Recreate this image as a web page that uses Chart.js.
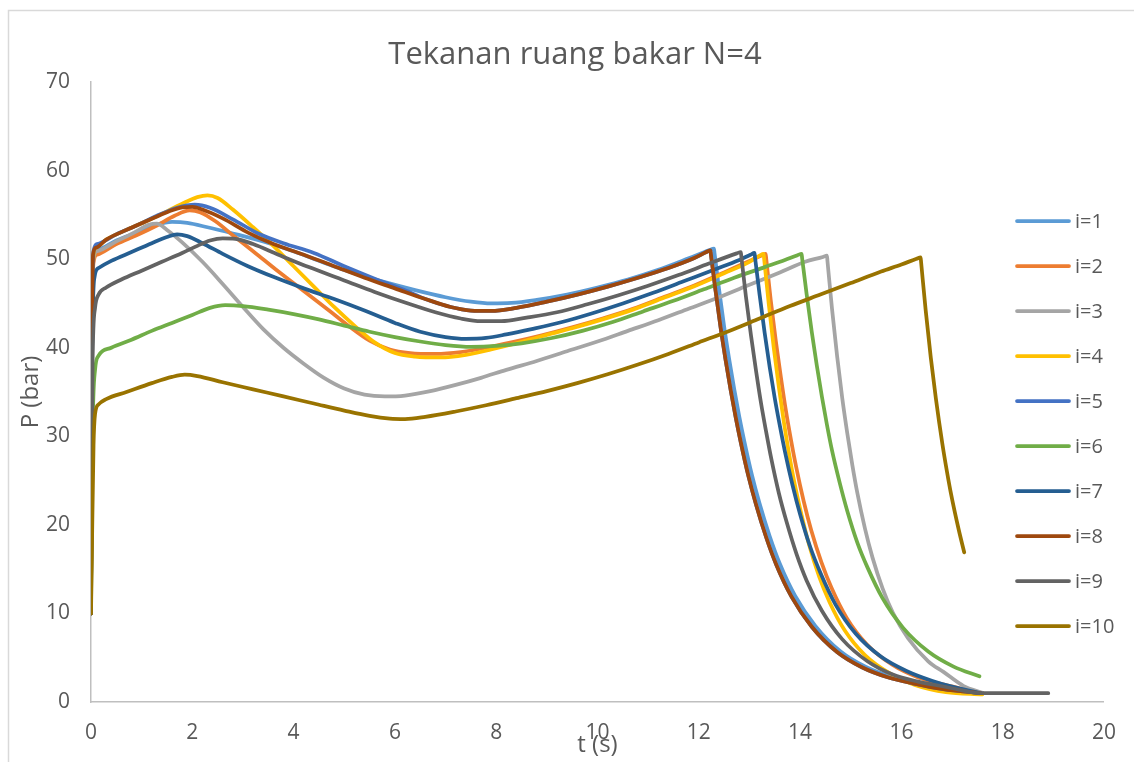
<!DOCTYPE html>
<html>
<head>
<meta charset="utf-8">
<title>Tekanan ruang bakar N=4</title>
<script src="https://cdn.jsdelivr.net/npm/chart.js@4.4.1/dist/chart.umd.min.js"></script>
<style>
  html, body { margin: 0; padding: 0; background: #fff; }
  #wrap { width: 1134px; height: 762px; position: relative; }
</style>
</head>
<body>
<div id="wrap"><canvas id="myChart"></canvas></div>
<script>
// t (s), P (bar) pairs
var i1 = [[0,10],[0.02,40],[0.05,50.2],[0.12,51.0],[0.5,52.1],[0.9,53.0],[1.3,53.9],[1.6,54.2],[1.9,54.1],[2.3,53.6],[2.8,52.9],[3.4,52.0],[4.0,50.9],[4.6,49.6],[5.2,48.4],[5.8,47.4],[6.4,46.5],[7.0,45.7],[7.5,45.2],[7.9,45.0],[8.3,45.05],[8.8,45.4],[9.4,46.0],[10.0,46.8],[10.6,47.7],[11.2,48.8],[11.8,50.1],[12.2,51.0],[12.3,51.2],[12.31,50.7],[12.4,46.6],[12.5,42.4],[12.6,38.7],[12.7,35.3],[12.8,32.2],[12.9,29.4],[13.05,25.6],[13.2,22.4],[13.4,18.7],[13.6,15.6],[13.9,12.0],[14.3,8.6],[14.8,5.7],[15.3,3.95],[15.8,2.85],[16.3,2.15],[16.9,1.5],[17.6,1.0]];
var i2 = [[0,10],[0.02,40],[0.05,49.6],[0.12,50.5],[0.5,51.7],[0.9,52.7],[1.3,53.8],[1.65,54.9],[1.95,55.5],[2.15,55.3],[2.45,54.3],[2.8,52.7],[3.2,50.9],[3.7,48.6],[4.2,46.4],[4.7,44.2],[5.1,42.4],[5.5,40.8],[5.9,39.8],[6.3,39.4],[6.8,39.3],[7.3,39.5],[7.8,40.0],[8.3,40.6],[8.9,41.4],[9.5,42.3],[10.1,43.3],[10.7,44.4],[11.3,45.7],[11.9,47.0],[12.5,48.5],[13.0,49.8],[13.25,50.45],[13.32,50.6],[13.33,50.1],[13.42,45.4],[13.52,40.8],[13.62,36.7],[13.72,32.9],[13.82,29.6],[13.92,26.6],[14.07,22.7],[14.22,19.4],[14.42,15.8],[14.62,12.9],[14.92,9.5],[15.32,6.5],[15.82,4.2],[16.32,2.8],[16.82,2.0],[17.6,1.0]];
var i3 = [[0,10],[0.02,40],[0.05,50.1],[0.12,50.9],[0.5,52.0],[0.85,53.0],[1.15,53.9],[1.3,54.0],[1.5,53.3],[1.8,51.9],[2.2,49.7],[2.6,47.2],[3.0,44.6],[3.4,42.1],[3.8,40.0],[4.2,38.2],[4.6,36.6],[5.0,35.4],[5.4,34.7],[5.8,34.5],[6.2,34.6],[6.7,35.1],[7.2,35.8],[7.7,36.6],[8.2,37.5],[8.8,38.5],[9.4,39.6],[10.0,40.7],[10.6,41.9],[11.2,43.1],[11.8,44.4],[12.4,45.7],[13.0,47.1],[13.6,48.5],[14.1,49.7],[14.45,50.25],[14.53,50.4],[14.54,49.8],[14.63,44.4],[14.73,39.1],[14.83,34.4],[14.93,30.4],[15.03,26.8],[15.13,23.6],[15.28,19.6],[15.43,16.3],[15.63,12.8],[15.83,10.1],[16.13,7.2],[16.53,4.6],[16.83,3.4],[17.23,1.8],[17.6,1.05]];
var i4 = [[0,10],[0.02,40],[0.05,50.5],[0.1,51.3],[0.3,52.2],[0.7,53.3],[1.1,54.3],[1.5,55.4],[1.85,56.4],[2.1,57.0],[2.3,57.2],[2.5,56.9],[2.8,55.6],[3.2,53.6],[3.6,51.5],[4.0,49.2],[4.4,46.9],[4.8,44.6],[5.2,42.5],[5.6,40.6],[6.0,39.4],[6.4,39.0],[6.9,38.9],[7.4,39.2],[7.9,39.8],[8.4,40.5],[8.9,41.3],[9.5,42.2],[10.1,43.2],[10.7,44.3],[11.3,45.6],[11.9,46.9],[12.5,48.4],[13.0,49.7],[13.2,50.4],[13.28,50.6],[13.29,50.05],[13.38,45.0],[13.48,40.0],[13.58,35.6],[13.68,31.6],[13.78,28.1],[13.88,25.0],[14.03,21.1],[14.18,17.7],[14.38,14.1],[14.58,11.3],[14.88,8.1],[15.28,5.3],[15.78,3.2],[16.28,1.9],[16.88,1.1],[17.6,0.85]];
var i5 = [[0,10],[0.02,40],[0.05,50.9],[0.12,51.7],[0.5,52.8],[0.9,53.8],[1.3,54.9],[1.7,55.8],[2.05,56.15],[2.35,55.8],[2.8,54.5],[3.3,52.9],[3.8,51.8],[4.4,50.7],[5.0,49.2],[5.6,47.8],[6.2,46.5],[6.6,45.5],[7.1,44.6],[7.5,44.2],[7.9,44.15],[8.4,44.5],[9.0,45.2],[9.6,46.0],[10.2,46.9],[10.8,47.9],[11.4,49.0],[11.9,50.1],[12.15,50.8],[12.23,51.0],[12.24,50.5],[12.33,46.5],[12.43,42.3],[12.53,38.6],[12.63,35.2],[12.73,32.1],[12.83,29.3],[12.98,25.5],[13.13,22.3],[13.33,18.6],[13.53,15.5],[13.83,11.9],[14.23,8.5],[14.73,5.65],[15.23,3.9],[15.73,2.8],[16.23,2.1],[16.83,1.45],[17.56,1.0]];
var i6 = [[0,10],[0.03,30],[0.08,37.5],[0.15,39.1],[0.4,40.0],[0.8,40.9],[1.2,41.9],[1.6,42.8],[2.0,43.7],[2.35,44.5],[2.65,44.8],[3.0,44.7],[3.5,44.3],[4.0,43.8],[4.5,43.2],[5.0,42.5],[5.5,41.8],[6.0,41.2],[6.5,40.7],[7.0,40.3],[7.5,40.1],[8.0,40.2],[8.5,40.5],[9.1,41.1],[9.7,41.9],[10.3,42.9],[10.9,44.1],[11.5,45.3],[12.1,46.6],[12.7,47.9],[13.3,49.1],[13.7,49.9],[13.95,50.45],[14.03,50.6],[14.04,50.1],[14.13,46.0],[14.23,41.8],[14.33,38.0],[14.43,34.5],[14.53,31.3],[14.63,28.4],[14.78,24.8],[14.93,21.6],[15.13,18.0],[15.33,15.2],[15.63,11.7],[16.03,8.4],[16.53,5.7],[17.03,4.0],[17.54,2.9]];
var i7 = [[0,10],[0.02,38],[0.07,48.0],[0.15,49.0],[0.4,49.8],[0.8,50.8],[1.2,51.8],[1.5,52.5],[1.7,52.8],[1.9,52.6],[2.2,51.8],[2.6,50.6],[3.1,49.2],[3.6,48.0],[4.2,46.7],[4.8,45.5],[5.4,44.2],[6.0,42.8],[6.5,41.8],[7.0,41.2],[7.4,41.0],[7.8,41.1],[8.2,41.5],[8.7,42.1],[9.3,42.9],[9.9,43.9],[10.5,45.0],[11.1,46.2],[11.7,47.5],[12.3,48.8],[12.8,49.9],[13.02,50.5],[13.1,50.7],[13.11,50.2],[13.2,46.0],[13.3,41.7],[13.4,37.8],[13.5,34.3],[13.6,31.2],[13.7,28.3],[13.85,24.5],[14.0,21.2],[14.2,17.5],[14.4,14.6],[14.7,11.0],[15.1,7.7],[15.6,5.1],[16.1,3.5],[16.6,2.4],[17.1,1.6],[17.56,1.0]];
var i8 = [[0,10],[0.02,40],[0.04,50.5],[0.1,51.3],[0.3,52.2],[0.7,53.3],[1.1,54.3],[1.5,55.3],[1.8,55.85],[2.0,55.9],[2.2,55.6],[2.6,54.6],[3.1,53.0],[3.6,51.7],[4.2,50.5],[4.8,49.2],[5.4,47.9],[6.0,46.7],[6.6,45.5],[7.1,44.6],[7.5,44.2],[7.9,44.15],[8.4,44.5],[9.0,45.2],[9.6,46.0],[10.2,46.9],[10.8,47.9],[11.4,49.0],[11.9,50.1],[12.15,50.8],[12.23,51.0],[12.24,50.5],[12.33,46.5],[12.43,42.3],[12.53,38.6],[12.63,35.2],[12.73,32.1],[12.83,29.3],[12.98,25.5],[13.13,22.3],[13.33,18.6],[13.53,15.5],[13.83,11.9],[14.23,8.5],[14.73,5.65],[15.23,3.9],[15.73,2.8],[16.23,2.1],[16.83,1.45],[17.56,1.0]];
var i9 = [[0,10],[0.03,38],[0.08,44.5],[0.15,46.0],[0.3,46.8],[0.6,47.7],[1.0,48.7],[1.4,49.7],[1.8,50.7],[2.1,51.5],[2.35,52.1],[2.6,52.35],[2.85,52.3],[3.2,51.7],[3.7,50.5],[4.3,49.1],[5.0,47.6],[5.6,46.3],[6.2,45.1],[6.8,44.0],[7.3,43.3],[7.7,43.0],[8.1,43.0],[8.6,43.4],[9.2,44.0],[9.8,44.9],[10.4,45.9],[11.0,47.0],[11.6,48.2],[12.2,49.5],[12.75,50.65],[12.83,50.8],[12.84,50.3],[12.93,45.8],[13.03,41.4],[13.13,37.4],[13.23,33.7],[13.33,30.5],[13.43,27.5],[13.58,23.6],[13.73,20.4],[13.93,16.7],[14.13,13.7],[14.43,10.3],[14.83,7.1],[15.33,4.6],[15.83,3.1],[16.33,2.3],[16.83,1.75],[17.13,1.4],[17.56,1.0],[18.9,1.0]];
var i10 = [[0,10],[0.02,18],[0.05,29],[0.08,32.5],[0.15,33.6],[0.3,34.2],[0.7,35.0],[1.2,36.0],[1.6,36.7],[1.85,36.95],[2.1,36.8],[2.6,36.1],[3.2,35.3],[3.8,34.5],[4.4,33.7],[5.0,32.9],[5.5,32.3],[5.9,32.0],[6.2,31.95],[6.6,32.2],[7.2,32.8],[7.8,33.5],[8.4,34.3],[9.0,35.1],[9.6,36.0],[10.2,37.0],[10.8,38.1],[11.4,39.3],[12.0,40.6],[12.6,41.9],[13.2,43.3],[13.8,44.7],[14.4,46.0],[15.0,47.3],[15.6,48.6],[16.0,49.4],[16.3,50.04],[16.38,50.2],[16.39,49.6],[16.48,44.2],[16.58,38.9],[16.68,34.3],[16.81,29.1],[16.9,26.0],[16.98,23.5],[17.13,19.5],[17.24,16.9]];

var seriesNames = ['i=1','i=2','i=3','i=4','i=5','i=6','i=7','i=8','i=9','i=10'];
var seriesData = [i1, i2, i3, i4, i5, i6, i7, i8, i9, i10];
var xTicks = [0, 20, 2];   // min, max, step
var yTicks = [0, 70, 10];

var colors = ['#5B9BD5','#ED7D31','#A5A5A5','#FFC000','#4472C4','#70AD47','#255E91','#9E480E','#636363','#997300'];
var textColor = '#595959';
var fontName = "'Open Sans', 'Noto Sans', sans-serif";

var datasets = [];
seriesData.forEach(function(v, i){
	datasets.push({
		label: seriesNames[i],
		data: v.map(function(p){ return {x: p[0], y: p[1]}; }),
		borderColor: colors[i],
		backgroundColor: colors[i],
		borderWidth: 3.75,
		pointRadius: 0,
		pointHoverRadius: 0,
		showLine: true,
		fill: false,
		cubicInterpolationMode: 'monotone',
		borderCapStyle: 'round',
		borderJoinStyle: 'round',
		order: seriesData.length - i   // later series on top, like the original
	});
});

// frame, title and legend drawn by hand so the legend sits inside the plot like the original
var decor = {
	id: 'decor',
	beforeDraw: function(chart){
		var c = chart.ctx;
		c.save();
		c.fillStyle = '#fff';
		c.fillRect(0, 0, chart.width, chart.height);
		c.strokeStyle = '#D9D9D9';
		c.lineWidth = 1.5;
		c.strokeRect(8.5, 10.5, 1400, 900);
		c.restore();
	},
	afterDraw: function(chart){
		var c = chart.ctx;
		c.save();
		c.fillStyle = textColor;
		c.font = '31px ' + fontName;
		c.textAlign = 'center';
		c.textBaseline = 'alphabetic';
		c.fillText('Tekanan ruang bakar N=4', 575, 64);

		c.font = '20px ' + fontName;
		c.textAlign = 'left';
		c.textBaseline = 'middle';
		c.lineCap = 'round';
		c.lineWidth = 3.75;
		for (var k = 0; k < seriesNames.length; k++) {
			var y = 221 + k * 45;
			c.strokeStyle = colors[k];
			c.beginPath();
			c.moveTo(1017, y);
			c.lineTo(1069, y);
			c.stroke();
			c.fillText(seriesNames[k], 1075, y + 1);
		}
		c.restore();
	}
};

var ctx = document.getElementById('myChart').getContext('2d');
var myChart = new Chart(ctx, {
	type: 'scatter',
	data: { datasets: datasets },
	options: {
		responsive: true,
		maintainAspectRatio: false,
		animation: false,
		layout: { padding: { top: 82, right: 27, left: 0, bottom: 0 } },
		plugins: {
			legend: { display: false },
			tooltip: { enabled: false },
			title: { display: false }
		},
		scales: {
			x: {
				type: 'linear',
				min: xTicks[0], max: xTicks[1],
				afterFit: function(s){ s.height = 60; },
				grid: { display: false, drawTicks: false },
				border: { display: true, color: '#BFBFBF', width: 1.5 },
				ticks: { stepSize: xTicks[2], color: textColor, padding: 18, font: { family: fontName, size: 21 }, autoSkip: false, maxRotation: 0 },
				title: { display: true, text: 't (s)', color: textColor, font: { family: fontName, size: 24 }, padding: { top: 0, bottom: 2 } }
			},
			y: {
				type: 'linear',
				min: yTicks[0], max: yTicks[1],
				afterFit: function(s){ s.width = 91; },
				grid: { display: false, drawTicks: false },
				border: { display: true, color: '#BFBFBF', width: 1.5 },
				ticks: { stepSize: yTicks[2], color: textColor, padding: 21, font: { family: fontName, size: 21 } },
				title: { display: true, text: 'P (bar)', color: textColor, font: { family: fontName, size: 24 }, padding: { top: 17, bottom: 0 } }
			}
		}
	},
	plugins: [decor]
});
</script>
</body>
</html>
